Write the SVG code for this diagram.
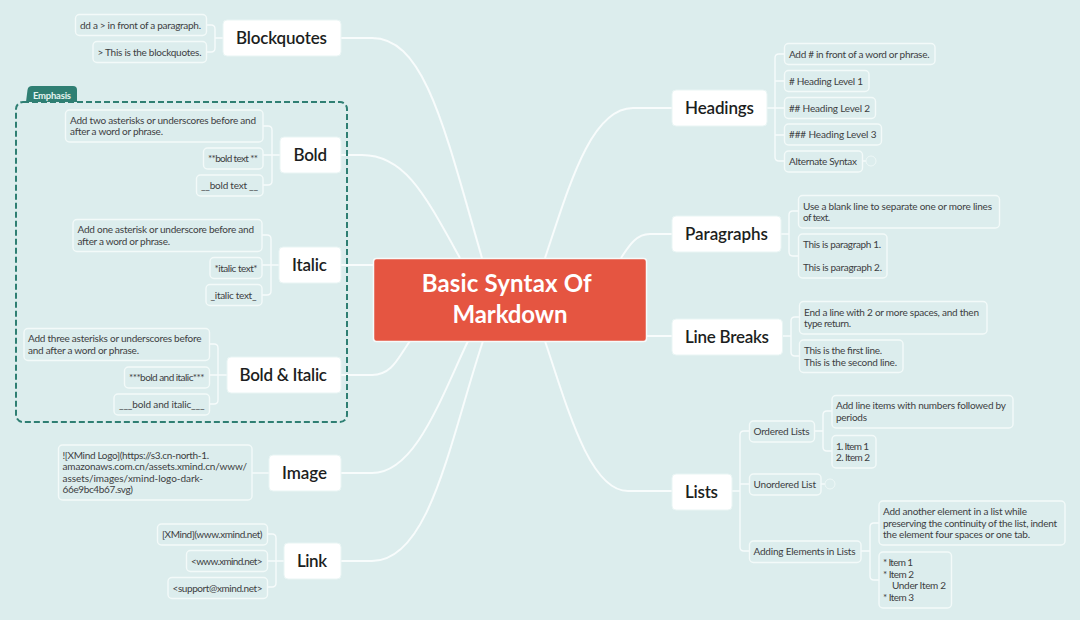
<svg xmlns="http://www.w3.org/2000/svg" width="1080" height="620" viewBox="0 0 1080 620">
<style>
text{font-family:"Lato","Open Sans","Noto Sans",sans-serif}
.m{fill:#fff;stroke:#e9f5f4;stroke-width:1}
.s{fill:#dceded;stroke:#f3faf9;stroke-width:1.4}
.t{font-size:10px;fill:#3c4042}
.h{font-size:17px;font-weight:600;fill:#1c1e21}
.c{fill:none;stroke:#f6fbfb;stroke-width:1.4}
.mc{fill:none;stroke:#f8fcfc;stroke-width:2}
.o{fill:none;stroke:#eef8f7;stroke-width:1}
</style>
<rect width="1080" height="620" fill="#dceded"/>
<g id="connectors">
<path class="mc" d="M341 38H372C425 38 445 130 482 258"/>
<path class="mc" d="M341 155H362C405 155 425 195 460 258"/>
<path class="mc" d="M341 265H373"/>
<path class="mc" d="M341 375H372C392 375 398 358 410 341"/>
<path class="mc" d="M341 473H372C415 473 440 400 468 341"/>
<path class="mc" d="M341 561H372C430 561 450 440 483 341"/>
<path class="mc" d="M672 108H633C590 108 568 190 545 258"/>
<path class="mc" d="M672 234H650C637 234 630 244 621 258"/>
<path class="mc" d="M647 336H672"/>
<path class="mc" d="M672 491H628C590 491 568 410 545 341"/>
<path class="c" d="M206 25H211Q215 25 215 29V48Q215 52 211 52H206M215 38H223"/>
<path class="c" d="M263 126H268Q272 126 272 130V181Q272 185 268 185H263M263 155H280"/>
<path class="c" d="M262 235H267Q271 235 271 239V291Q271 295 267 295H262M262 265H279"/>
<path class="c" d="M209 344H214Q218 344 218 348V400Q218 404 214 404H209M209 375H227"/>
<path class="c" d="M252 473H269"/>
<path class="c" d="M267 534H272Q276 534 276 538V583Q276 587 272 587H267M267 561H284"/>
<path class="c" d="M784 54H779Q775 54 775 58V157Q775 161 779 161H784M775 81H784M767 108H784M775 135H784"/>
<path class="c" d="M862 161H866"/>
<path class="c" d="M798 211H793Q789 211 789 215V252Q789 256 793 256H798M781 234H789"/>
<path class="c" d="M799 317H795Q791 317 791 321V352Q791 356 795 356H799M782.500 336H791"/>
<path class="c" d="M749 431H744Q740 431 740 435V547Q740 551 744 551H749M740 484H749M732 491H740"/>
<path class="c" d="M821 484H825"/>
<path class="c" d="M832 411H827Q823 411 823 415V447Q823 451 827 451H832M814 431H823"/>
<path class="c" d="M879 523H874Q870 523 870 527V576Q870 580 874 580H879M861 551H870"/>
</g>
<g id="boundary-emphasis">
<rect x="16" y="102" width="331" height="320" rx="7" fill="none" stroke="#2f7f73" stroke-width="2" stroke-dasharray="6 3"/>
<path d="M26 102L27.500 90Q28 86 32 86H73Q77 86 77 90V102Z" fill="#2f7f73"/>
<text x="33" y="98.500" font-size="9.500" font-weight="700" fill="#e4f3f0" textLength="38">Emphasis</text>
</g>
<g id="central">
<rect x="373.500" y="258.500" width="273" height="83" rx="3" fill="#e55541" stroke="#f6fbfb" stroke-width="1.500"/>
<text x="421.700" y="292" font-size="24" font-weight="700" fill="#fff" textLength="170">Basic Syntax Of</text>
<text x="452.500" y="322.500" font-size="24" font-weight="700" fill="#fff" textLength="115">Markdown</text>
</g>
<g id="blockquotes">
<rect class="m" x="223" y="20" width="118" height="36" rx="4"/>
<text class="h" x="236" y="44" textLength="91">Blockquotes</text>
<rect class="s" x="75.500" y="14.500" width="131" height="21" rx="4"/>
<text class="t" x="80" y="28.500" textLength="121">dd a &gt; in front of a paragraph.</text>
<rect class="s" x="93" y="41.500" width="113.500" height="21" rx="4"/>
<text class="t" x="97.500" y="55.500" textLength="104">&gt; This is the blockquotes.</text>
</g>
<g id="bold">
<rect class="m" x="280" y="137" width="61" height="36" rx="4"/>
<text class="h" x="293.500" y="161" textLength="33.500">Bold</text>
<rect class="s" x="65.500" y="110" width="197.500" height="32" rx="4"/>
<text class="t" x="70" y="123.500" textLength="186">Add two asterisks or underscores before and</text>
<text class="t" x="70" y="135" textLength="93">after a word or phrase.</text>
<rect class="s" x="203.500" y="148" width="59.500" height="21" rx="4"/>
<text class="t" x="208" y="162" textLength="50">**bold text **</text>
<rect class="s" x="196.500" y="175" width="66.500" height="21" rx="4"/>
<text class="t" x="201" y="189" textLength="57">__bold text __</text>
</g>
<g id="italic">
<rect class="m" x="279" y="247" width="62" height="36" rx="4"/>
<text class="h" x="292" y="271" textLength="35">Italic</text>
<rect class="s" x="73" y="219.500" width="189" height="32" rx="4"/>
<text class="t" x="77.500" y="233" textLength="176.500">Add one asterisk or underscore before and</text>
<text class="t" x="77.500" y="244.500" textLength="92.500">after a word or phrase.</text>
<rect class="s" x="210" y="257.500" width="52" height="21" rx="4"/>
<text class="t" x="214.500" y="271.500" textLength="43">*italic text*</text>
<rect class="s" x="206" y="284.500" width="56" height="21" rx="4"/>
<text class="t" x="210.500" y="298.500" textLength="46">_italic text_</text>
</g>
<g id="bold-italic">
<rect class="m" x="227" y="357" width="114" height="36" rx="4"/>
<text class="h" x="239.500" y="381" textLength="87.500">Bold &amp; Italic</text>
<rect class="s" x="24" y="328.500" width="185.500" height="32" rx="4"/>
<text class="t" x="28" y="342" textLength="173.500">Add three asterisks or underscores before</text>
<text class="t" x="28" y="354" textLength="111">and after a word or phrase.</text>
<rect class="s" x="124.500" y="367" width="85" height="21" rx="4"/>
<text class="t" x="129" y="381" textLength="75.500">***bold and italic***</text>
<rect class="s" x="114" y="394" width="95.500" height="21" rx="4"/>
<text class="t" x="119" y="408" textLength="85.500">___bold and italic___</text>
</g>
<g id="image">
<rect class="m" x="269" y="455" width="72" height="36" rx="4"/>
<text class="h" x="282" y="479" textLength="45">Image</text>
<rect class="s" x="58.500" y="445" width="193.500" height="55" rx="4"/>
<text class="t" x="62.500" y="458.500" textLength="146.500">![XMind Logo](https://s3.cn-north-1.</text>
<text class="t" x="62.500" y="470" textLength="184.500">amazonaws.com.cn/assets.xmind.cn/www/</text>
<text class="t" x="62.500" y="481.500" textLength="140.500">assets/images/xmind-logo-dark-</text>
<text class="t" x="62.500" y="493" textLength="70.500">66e9bc4b67.svg)</text>
</g>
<g id="link">
<rect class="m" x="284" y="543" width="57" height="36" rx="4"/>
<text class="h" x="297" y="567" textLength="30">Link</text>
<rect class="s" x="157.500" y="524" width="110" height="21" rx="4"/>
<text class="t" x="162" y="538" textLength="100.500">[XMind](www.xmind.net)</text>
<rect class="s" x="186.500" y="550.500" width="81" height="21" rx="4"/>
<text class="t" x="191" y="564.500" textLength="71.500">&lt;www.xmind.net&gt;</text>
<rect class="s" x="168" y="577.500" width="99.500" height="21" rx="4"/>
<text class="t" x="172.500" y="591.500" textLength="90">&lt;support@xmind.net&gt;</text>
</g>
<g id="headings">
<rect class="m" x="672" y="90" width="95" height="36" rx="4"/>
<text class="h" x="685" y="114" textLength="69">Headings</text>
<rect class="s" x="784.500" y="43.500" width="150.500" height="21" rx="4"/>
<text class="t" x="789" y="57.500" textLength="140.500">Add # in front of a word or phrase.</text>
<rect class="s" x="784.500" y="70.500" width="84.500" height="21" rx="4"/>
<text class="t" x="789" y="84.500" textLength="74"># Heading Level 1</text>
<rect class="s" x="784.500" y="97.500" width="91" height="21" rx="4"/>
<text class="t" x="789" y="111.500" textLength="81">## Heading Level 2</text>
<rect class="s" x="784.500" y="124" width="97" height="21" rx="4"/>
<text class="t" x="789" y="138" textLength="87.500">### Heading Level 3</text>
<rect class="s" x="784.500" y="151" width="78" height="21" rx="4"/>
<text class="t" x="789" y="165" textLength="68">Alternate Syntax</text>
<circle class="o" cx="871" cy="161" r="5"/>
</g>
<g id="paragraphs">
<rect class="m" x="672" y="216" width="109" height="36" rx="4"/>
<text class="h" x="685" y="240" textLength="83">Paragraphs</text>
<rect class="s" x="798.500" y="195.500" width="201" height="32.500" rx="4"/>
<text class="t" x="803" y="209.500" textLength="189">Use a blank line to separate one or more lines</text>
<text class="t" x="803" y="221" textLength="27">of text.</text>
<rect class="s" x="798.500" y="234" width="88.500" height="44" rx="4"/>
<text class="t" x="803" y="248" textLength="78">This is paragraph 1.</text>
<text class="t" x="803" y="271" textLength="79">This is paragraph 2.</text>
</g>
<g id="line-breaks">
<rect class="m" x="672" y="319" width="110.500" height="36" rx="4"/>
<text class="h" x="685" y="343" textLength="84">Line Breaks</text>
<rect class="s" x="799.500" y="301.500" width="187.500" height="32.500" rx="4"/>
<text class="t" x="804" y="315.500" textLength="175">End a line with 2 or more spaces, and then</text>
<text class="t" x="804" y="327" textLength="47">type return.</text>
<rect class="s" x="799.500" y="340" width="103.500" height="32.500" rx="4"/>
<text class="t" x="804" y="353.500" textLength="78">This is the first line.</text>
<text class="t" x="804" y="365.500" textLength="93">This is the second line.</text>
</g>
<g id="lists">
<rect class="m" x="672" y="474" width="60" height="36" rx="4"/>
<text class="h" x="685" y="498" textLength="33">Lists</text>
<rect class="s" x="749.500" y="421" width="65" height="21" rx="4"/>
<text class="t" x="753.500" y="435" textLength="56">Ordered Lists</text>
<rect class="s" x="832" y="395.500" width="181" height="32.500" rx="4"/>
<text class="t" x="836" y="409" textLength="170">Add line items with numbers followed by</text>
<text class="t" x="836" y="421" textLength="31">periods</text>
<rect class="s" x="832" y="435.500" width="44" height="32.500" rx="4"/>
<text class="t" x="836" y="449.500" textLength="33">1. Item 1</text>
<text class="t" x="836" y="461" textLength="34">2. Item 2</text>
<rect class="s" x="749.500" y="474" width="71.500" height="21" rx="4"/>
<text class="t" x="753.500" y="488" textLength="62.500">Unordered List</text>
<circle class="o" cx="830" cy="484" r="5"/>
<rect class="s" x="749.500" y="541" width="111.500" height="21.500" rx="4"/>
<text class="t" x="753.500" y="555" textLength="102">Adding Elements in Lists</text>
<rect class="s" x="879" y="501" width="186" height="44" rx="4"/>
<text class="t" x="883" y="515" textLength="144">Add another element in a list while</text>
<text class="t" x="883" y="526.500" textLength="174">preserving the continuity of the list, indent</text>
<text class="t" x="883" y="538" textLength="147">the element four spaces or one tab.</text>
<rect class="s" x="879" y="552" width="72.500" height="56" rx="4"/>
<text class="t" x="883" y="566" textLength="30">* Item 1</text>
<text class="t" x="883" y="577.500" textLength="31">* Item 2</text>
<text class="t" x="892" y="589" textLength="54">Under Item 2</text>
<text class="t" x="883" y="600.500" textLength="31">* Item 3</text>
</g>
</svg>
